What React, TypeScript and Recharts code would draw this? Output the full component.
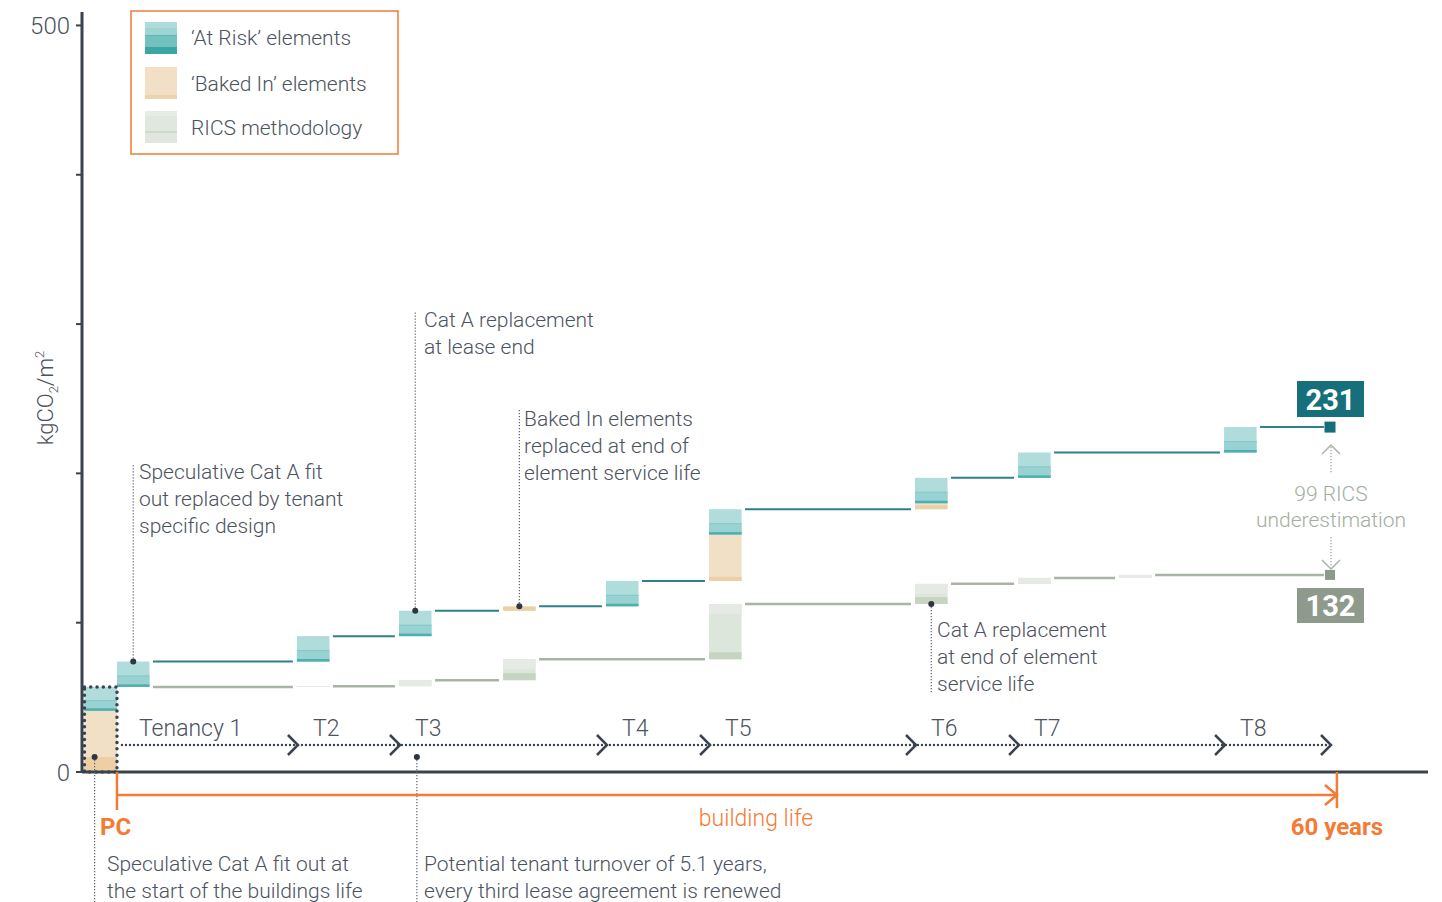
import React from 'react';
import {
  ComposedChart,
  Line,
  XAxis,
  YAxis,
  ReferenceArea,
  ReferenceLine,
  ReferenceDot,
} from 'recharts';

// year each replacement block starts at (first one = speculative fit out before PC)
const stepYears = [-1.6, 0, 8.85, 13.87, 18.99, 24.05, 29.12, 39.25, 44.32, 49.29, 54.45];
// kgCO2/m2 added at each step
const bakedIn = [41, 0, 0, 0, 3, 0, 31, 4, 0, 0, 0];
const atRisk = [16, 17, 17, 17, 0, 17, 17, 17, 17, 0, 17];
const rics = [57, 0, 0.5, 4, 14, 0, 37, 13.5, 4, 2, 0];
const endYear = 59.66;

const tenancyLabels = ['Tenancy 1', 'T2', 'T3', 'T4', 'T5', 'T6', 'T7', 'T8'];
const tenancyEnds = [8.85, 13.87, 24.05, 29.12, 39.25, 44.32, 54.45, 59.66];
const yTicks = [0, 100, 200, 300, 400, 500];

const W = 1442;
const H = 902;
const M = { top: 12, right: 14, bottom: 130, left: 12 };
const Y_AXIS_W = 70;
const X_DOMAIN: [number, number] = [-1.72, 64.48];
const Y_MAX = 509;
const BLOCK_W = 1.6;

const plotL = M.left + Y_AXIS_W;
const plotR = W - M.right;
const plotT = M.top;
const plotB = H - M.bottom;
const px = (x: number) => plotL + ((x - X_DOMAIN[0]) / (X_DOMAIN[1] - X_DOMAIN[0])) * (plotR - plotL);
const py = (v: number) => plotB - (v / Y_MAX) * (plotB - plotT);

const FONT = 'Roboto, "Liberation Sans", Arial, sans-serif';
const TEXT = '#4b5361';
const DARK = '#39424f';
const ORANGE = '#f47b35';

// cumulative levels
const upperBase: number[] = [];
const ricsBase: number[] = [];
{
  let a = 0;
  let r = 0;
  stepYears.forEach((_, i) => {
    upperBase.push(a);
    ricsBase.push(r);
    a += bakedIn[i] + atRisk[i];
    r += rics[i];
  });
}
const upperTotal = upperBase[upperBase.length - 1] + bakedIn[bakedIn.length - 1] + atRisk[atRisk.length - 1];
const ricsTotal = ricsBase[ricsBase.length - 1] + rics[rics.length - 1];

// flat line pieces between blocks, broken with nulls
function flatLine(base: number[], inc: number[], breaks: boolean[]) {
  const idx = breaks.map((b, i) => (b ? i : -1)).filter((i) => i >= 0);
  const pts: { x: number; y: number | null }[] = [];
  idx.forEach((i, k) => {
    const from = stepYears[i] + BLOCK_W + 0.17;
    const to = k + 1 < idx.length ? stepYears[idx[k + 1]] - 0.2 : endYear - 0.3;
    if (to <= from) return;
    const lvl = base[i] + inc[i];
    pts.push({ x: from, y: lvl }, { x: to, y: lvl }, { x: to, y: null });
  });
  return pts;
}

const upperInc = bakedIn.map((b, i) => b + atRisk[i]);
const upperLine = flatLine(upperBase, upperInc, upperInc.map((v) => v > 0));
// both lines leave the first tenant fit out block together
const ricsLine = flatLine(ricsBase, rics, rics.map((v, i) => v > 0 || i === 1));

function TealShape(p: any) {
  const { x, y, width, height } = p;
  const split = y + height * 0.55;
  return (
    <g>
      <rect x={x} y={y} width={width} height={height} fill="#b0dcdc" />
      <rect x={x} y={split} width={width} height={y + height - split} fill="#99d2d2" />
      <rect x={x} y={split} width={width} height={1} fill="#7cc5c4" opacity={0.7} />
      <rect x={x} y={y + height - 2.5} width={width} height={2.5} fill="#4eb0ae" />
    </g>
  );
}

function BeigeShape(p: any) {
  const { x, y, width, height, strip } = p;
  const s = Math.min(strip || 4, height);
  return (
    <g>
      <rect x={x} y={y} width={width} height={height} fill="#f2e0c6" />
      <rect x={x} y={y + height - s} width={width} height={s} fill="#eccfa4" />
    </g>
  );
}

function RicsShape(p: any) {
  const { x, y, width, height } = p;
  const s = height > 8 ? Math.min(7, height * 0.35) : 0;
  return (
    <g>
      <rect x={x} y={y} width={width} height={height} fill="#dde6db" />
      <rect x={x} y={y} width={width} height={Math.min(10, height)} fill="#e5ebe4" />
      {s > 0 && <rect x={x} y={y + height - s} width={width} height={s} fill="#c6d5c1" />}
    </g>
  );
}

const notes = [
  { at: [stepYears[1] + 0.8, upperBase[1] + upperInc[1]], end: 464, tx: 139, ty: 479, lines: ['Speculative Cat A fit', 'out replaced by tenant', 'specific design'] },
  { at: [stepYears[3] + 0.8, upperBase[3] + upperInc[3]], end: 312, tx: 424, ty: 327, lines: ['Cat A replacement', 'at lease end'] },
  { at: [stepYears[4] + 0.8, upperBase[4] + upperInc[4]], end: 410, tx: 524, ty: 426, lines: ['Baked In elements', 'replaced at end of', 'element service life'] },
  { at: [stepYears[7] + 0.8, ricsBase[7]], end: 694, tx: 937, ty: 637, lines: ['Cat A replacement', 'at end of element', 'service life'] },
  { at: [-1.1, 10], end: 902, tx: 107, ty: 871, lines: ['Speculative Cat A fit out at', 'the start of the buildings life'] },
  { at: [14.75, 10], end: 902, tx: 424, ty: 871, lines: ['Potential tenant turnover of 5.1 years,', 'every third lease agreement is renewed'] },
];

function Overlay() {
  const tips = tenancyEnds.map((t) => px(t) + 1);
  const rowY = 745;
  return (
    <svg width={W} height={H} style={{ position: 'absolute', left: 0, top: 0, pointerEvents: 'none' }} fontFamily={FONT}>
      {/* legend */}
      <rect x={131} y={11} width={267} height={143} fill="#fff" stroke={ORANGE} strokeWidth={1.5} />
      <g>
        <rect x={145} y={22} width={32} height={6} fill="#aedcdb" />
        <rect x={145} y={28} width={32} height={7} fill="#9dd5d5" />
        <rect x={145} y={35} width={32} height={12} fill="#72c0bf" />
        <rect x={145} y={35} width={32} height={1} fill="#5fb6b5" />
        <rect x={145} y={47} width={32} height={7} fill="#3aa7a5" />
        <rect x={145} y={67} width={32} height={28} fill="#f2e0c6" />
        <rect x={145} y={95} width={32} height={4} fill="#efd2a9" />
        <rect x={145} y={111} width={32} height={5} fill="#e7ede6" />
        <rect x={145} y={116} width={32} height={27} fill="#dfe7de" />
        <rect x={145} y={131} width={32} height={2} fill="#cddbc9" />
      </g>
      <g fill={TEXT} fontSize={21} fontWeight={300}>
        <text x={191} y={45}>‘At Risk’ elements</text>
        <text x={191} y={91}>‘Baked In’ elements</text>
        <text x={191} y={135}>RICS methodology</text>
      </g>

      {/* y axis title */}
      <text transform="translate(53,398) rotate(-90)" textAnchor="middle" fill={TEXT} fontSize={22} fontWeight={300}>
        kgCO<tspan fontSize={13} dy={5}>2</tspan>
        <tspan dy={-5}>/m</tspan>
        <tspan fontSize={13} dy={-9}>2</tspan>
      </text>

      {/* first fit out block outline */}
      <rect
        x={px(stepYears[0])}
        y={py(upperInc[0])}
        width={px(0) - px(stepYears[0])}
        height={py(0) - py(upperInc[0])}
        fill="none"
        stroke={DARK}
        strokeWidth={3.5}
        strokeDasharray="0 6.3"
        strokeLinecap="round"
      />

      {/* tenancy row */}
      <line x1={px(0) + 5} x2={tips[tips.length - 1] - 2} y1={rowY} y2={rowY} stroke={DARK} strokeWidth={2.4} strokeDasharray="0 4" strokeLinecap="round" />
      {tips.map((t, i) => (
        <polyline key={i} points={`${t - 10},${rowY - 10} ${t},${rowY} ${t - 10},${rowY + 10}`} fill="none" stroke={DARK} strokeWidth={2.5} />
      ))}
      {tenancyLabels.map((l, i) => (
        <text key={l} x={i === 0 ? px(0) + 22 : tips[i - 1] + 15} y={736} fill={TEXT} fontSize={23} fontWeight={300}>
          {l}
        </text>
      ))}

      {/* notes */}
      {notes.map((n, i) => {
        const cx = px(n.at[0]);
        const cy = py(n.at[1]);
        return (
          <g key={i}>
            <line x1={cx} x2={cx} y1={cy} y2={n.end} stroke="#5d6572" strokeWidth={1.2} strokeDasharray="1.2 1.8" />
            <circle cx={cx} cy={cy} r={3} fill="#2d3642" />
            {n.lines.map((s, k) => (
              <text key={k} x={n.tx} y={n.ty + k * 27} fill={TEXT} fontSize={21} fontWeight={300}>
                {s}
              </text>
            ))}
          </g>
        );
      })}

      {/* building life */}
      <g stroke={ORANGE} strokeWidth={2.5} fill="none">
        <line x1={px(0)} x2={px(0)} y1={plotB} y2={810} />
        <line x1={px(0)} x2={px(60)} y1={795} y2={795} />
        <polyline points={`${px(60) - 12},${785} ${px(60)},${795} ${px(60) - 12},${805}`} />
        <line x1={px(60)} x2={px(60)} y1={plotB} y2={808} />
      </g>
      <text x={100} y={835} fill={ORANGE} fontSize={24} fontWeight={700}>PC</text>
      <text x={756} y={826} fill={ORANGE} fontSize={23} fontWeight={300} textAnchor="middle">building life</text>
      <text x={px(60)} y={835} fill={ORANGE} fontSize={24} fontWeight={700} textAnchor="middle">60 years</text>

      {/* totals */}
      <rect x={1297} y={381} width={67} height={36} fill="#166f7b" />
      <text x={1330.5} y={410} fill="#fff" fontSize={29} fontWeight={700} textAnchor="middle">{upperTotal}</text>
      <rect x={1297} y={588} width={67} height={35} fill="#8e9b8c" />
      <text x={1330.5} y={616} fill="#fff" fontSize={29} fontWeight={700} textAnchor="middle">{ricsTotal}</text>

      {/* difference */}
      <g stroke="#a9b4a8" strokeWidth={1.5} fill="none">
        <line x1={1331} x2={1331} y1={447} y2={474} strokeDasharray="1.2 1.8" />
        <polyline points="1322,454 1331,445 1340,454" />
        <line x1={1331} x2={1331} y1={537} y2={566} strokeDasharray="1.2 1.8" />
        <polyline points="1322,560 1331,569 1340,560" />
      </g>
      <g fill="#a3aea1" fontSize={21} fontWeight={300} textAnchor="middle">
        <text x={1331} y={501}>{upperTotal - ricsTotal} RICS</text>
        <text x={1331} y={527}>underestimation</text>
      </g>
    </svg>
  );
}

export default function App() {
  return (
    <div style={{ position: 'relative', width: W, height: H, background: '#fff' }}>
      <style>{'body{margin:0}'}</style>
      <ComposedChart width={W} height={H} margin={M}>
        <XAxis type="number" dataKey="x" domain={X_DOMAIN} allowDataOverflow hide />
        <YAxis
          type="number"
          domain={[0, Y_MAX]}
          ticks={yTicks}
          width={Y_AXIS_W}
          allowDataOverflow
          axisLine={{ stroke: DARK, strokeWidth: 3 }}
          tickLine={{ stroke: DARK, strokeWidth: 2 }}
          tickSize={6}
          tickMargin={6}
          tickFormatter={(v) => (v === 0 || v === 500 ? String(v) : '')}
          tick={{ fontSize: 24, fill: TEXT, fontFamily: FONT, fontWeight: 300 }}
        />
        <ReferenceLine y={0} stroke={DARK} strokeWidth={3} />

        {stepYears.map((x0, i) => {
          const x1 = x0 + BLOCK_W;
          const b = upperBase[i];
          return (
            <React.Fragment key={i}>
              {bakedIn[i] > 0 && (
                <ReferenceArea
                  x1={x0}
                  x2={x1}
                  y1={b}
                  y2={b + bakedIn[i]}
                  shape={(p: any) => <BeigeShape {...p} strip={i === 0 ? 15 : 4} />}
                />
              )}
              {atRisk[i] > 0 && (
                <ReferenceArea x1={x0} x2={x1} y1={b + bakedIn[i]} y2={b + bakedIn[i] + atRisk[i]} shape={(p: any) => <TealShape {...p} />} />
              )}
              {i > 0 && rics[i] > 0 && (
                <ReferenceArea x1={x0} x2={x1} y1={ricsBase[i]} y2={ricsBase[i] + rics[i]} shape={(p: any) => <RicsShape {...p} />} />
              )}
            </React.Fragment>
          );
        })}

        <Line data={ricsLine} dataKey="y" type="linear" stroke="#a9b3a7" strokeWidth={2.5} dot={false} isAnimationActive={false} />
        <Line data={upperLine} dataKey="y" type="linear" stroke="#2f808a" strokeWidth={2} dot={false} isAnimationActive={false} />

        <ReferenceDot x={endYear} y={upperTotal} shape={(p: any) => <rect x={p.cx - 5.5} y={p.cy - 5.5} width={11} height={11} fill="#146f7b" />} />
        <ReferenceDot x={endYear} y={ricsTotal} shape={(p: any) => <rect x={p.cx - 5} y={p.cy - 5} width={10} height={10} fill="#8e9a8c" />} />
      </ComposedChart>
      <Overlay />
    </div>
  );
}
